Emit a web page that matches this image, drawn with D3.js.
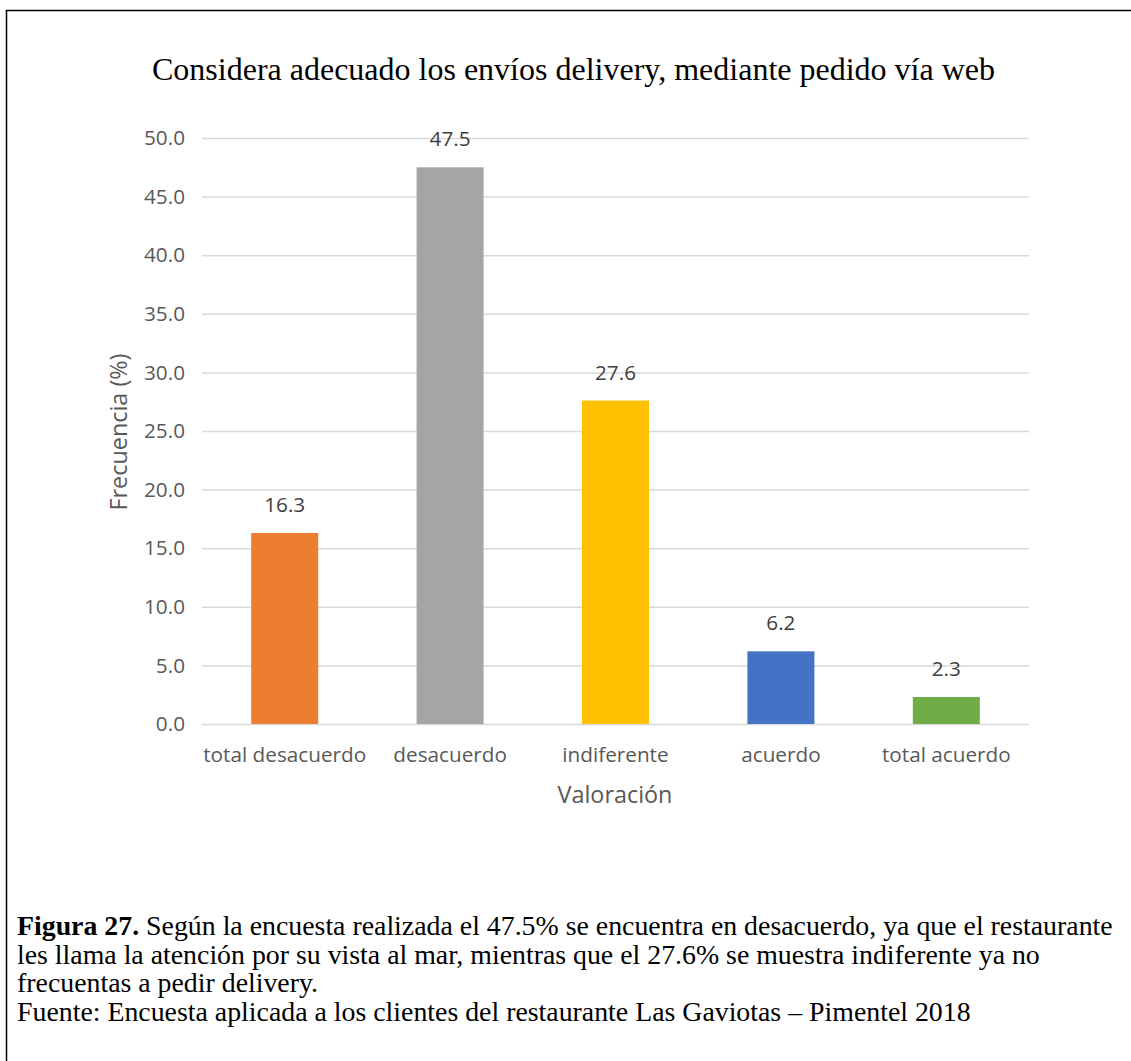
<!DOCTYPE html>
<html>
<head>
<meta charset="utf-8">
<script src="https://cdn.jsdelivr.net/npm/d3@7"></script>
<style>
  body { margin: 0; background: #fff; }
  svg { display: block; }
</style>
</head>
<body>
<script>
const categories = ["total desacuerdo", "desacuerdo", "indiferente", "acuerdo", "total acuerdo"];
const values = [16.3, 47.5, 27.6, 6.2, 2.3];
const colors = ["#ED7D31", "#A5A5A5", "#FFC000", "#4472C4", "#70AD47"];
const yTicks = [0, 5, 10, 15, 20, 25, 30, 35, 40, 45, 50];

const title = "Considera adecuado los envíos delivery, mediante pedido vía web";
const captionBold = "Figura 27.";
const captionLines = [
  " Según la encuesta realizada el 47.5% se encuentra en desacuerdo, ya que el restaurante",
  "les llama la atención por su vista al mar, mientras que el 27.6% se muestra indiferente ya no",
  "frecuentas a pedir delivery.",
  "Fuente: Encuesta aplicada a los clientes del restaurante Las Gaviotas – Pimentel 2018"
];

const width = 1131;
const height = 1061;
const sans = "'Open Sans', sans-serif";
const serif = "'Liberation Serif', 'Times New Roman', serif";

const svg = d3.select("body")
  .append("svg")
  .attr("width", width)
  .attr("height", height);

svg.append("rect")
  .attr("width", width)
  .attr("height", height)
  .attr("fill", "white");

// marco de la figura (sale por la derecha y abajo)
svg.append("rect")
  .attr("x", 6.5)
  .attr("y", 10.5)
  .attr("width", 1300)
  .attr("height", 1300)
  .attr("fill", "none")
  .attr("stroke", "#000")
  .attr("stroke-width", 1.5);

// mide un texto y devuelve el tamaño de letra que da el ancho buscado
function fitSize(parts, family, target) {
  const t = svg.append("text").style("font-family", family).style("font-size", "100px");
  parts.forEach(p => t.append("tspan").style("font-weight", p.bold ? "bold" : "normal").text(p.text));
  const w = t.node().getComputedTextLength();
  t.remove();
  return 100 * target / w;
}

const labelSize = fitSize([{text: "total desacuerdo"}], sans, 163);
const axisTitleSize = fitSize([{text: "Valoración"}], sans, 115);
const titleSize = fitSize([{text: title}], serif, 843);
const captionSize = fitSize([{text: captionBold, bold: true}, {text: captionLines[0]}], serif, 1096);

const x = d3.scaleBand()
  .domain(categories)
  .range([202, 1029])
  .paddingInner(0.595)
  .paddingOuter(0.2975);

const y = d3.scaleLinear()
  .domain([0, 50])
  .range([724, 138]);

// eje Y con lineas de cuadricula
const yAxis = svg.append("g")
  .attr("transform", "translate(202,0)")
  .call(d3.axisLeft(y)
    .tickValues(yTicks)
    .tickFormat(d3.format(".1f"))
    .tickSize(-827)
    .tickPadding(17));

yAxis.select(".domain").remove();
yAxis.selectAll("line")
  .attr("stroke", "#D9D9D9")
  .attr("stroke-width", 1.5);
yAxis.selectAll("text")
  .attr("fill", "#595959")
  .style("font-family", sans)
  .style("font-size", labelSize + "px");

// eje X (solo etiquetas)
const xAxis = svg.append("g")
  .attr("transform", "translate(0,724)")
  .call(d3.axisBottom(x).tickSize(0));

xAxis.select(".domain").remove();
xAxis.selectAll("text")
  .attr("y", 38)
  .attr("dy", 0)
  .attr("fill", "#595959")
  .style("font-family", sans)
  .style("font-size", labelSize + "px");

// barras
svg.append("g")
  .selectAll("rect")
  .data(values)
  .join("rect")
  .attr("x", (d, i) => x(categories[i]))
  .attr("y", d => y(d))
  .attr("width", x.bandwidth())
  .attr("height", d => y(0) - y(d))
  .attr("fill", (d, i) => colors[i]);

// etiquetas de datos
svg.append("g")
  .selectAll("text")
  .data(values)
  .join("text")
  .attr("x", (d, i) => x(categories[i]) + x.bandwidth() / 2)
  .attr("y", d => y(d) - 21)
  .attr("text-anchor", "middle")
  .attr("fill", "#404040")
  .style("font-family", sans)
  .style("font-size", labelSize + "px")
  .text(d => d3.format(".1f")(d));

// titulo
svg.append("text")
  .attr("x", 573.5)
  .attr("y", 80)
  .attr("text-anchor", "middle")
  .attr("fill", "#000")
  .style("font-family", serif)
  .style("font-size", titleSize + "px")
  .text(title);

// titulos de ejes
svg.append("text")
  .attr("transform", "translate(127,432) rotate(-90)")
  .attr("text-anchor", "middle")
  .attr("fill", "#595959")
  .style("font-family", sans)
  .style("font-size", axisTitleSize + "px")
  .text("Frecuencia (%)");

svg.append("text")
  .attr("x", 615)
  .attr("y", 803)
  .attr("text-anchor", "middle")
  .attr("fill", "#595959")
  .style("font-family", sans)
  .style("font-size", axisTitleSize + "px")
  .text("Valoración");

// pie de figura
const caption = svg.append("g")
  .style("font-family", serif)
  .style("font-size", captionSize + "px")
  .attr("fill", "#000");

captionLines.forEach((line, i) => {
  const t = caption.append("text")
    .attr("x", 17)
    .attr("y", 935 + i * 28.5);
  if (i === 0) {
    t.append("tspan").style("font-weight", "bold").text(captionBold);
  }
  t.append("tspan").text(line);
});
</script>
</body>
</html>
